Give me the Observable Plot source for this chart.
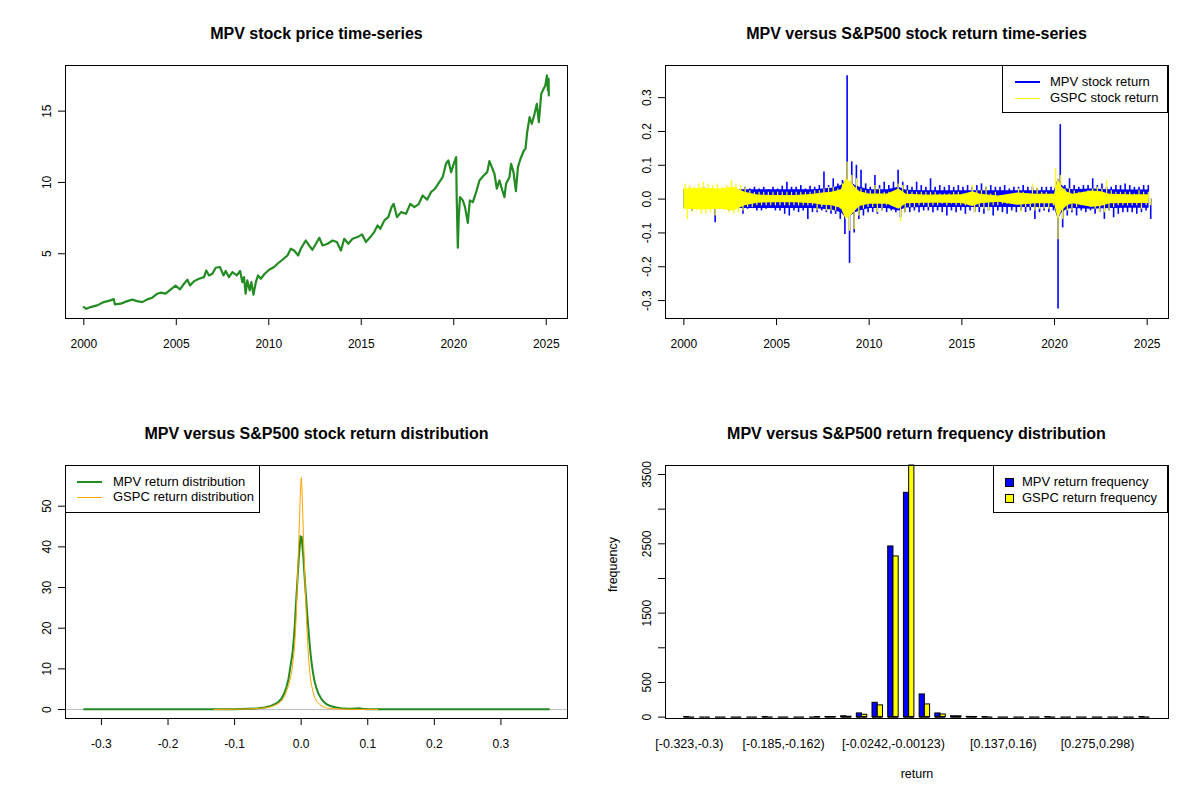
<!DOCTYPE html>
<html><head><meta charset="utf-8">
<script src="https://cdn.jsdelivr.net/npm/d3@7"></script>
<script src="https://cdn.jsdelivr.net/npm/@observablehq/plot@0.6"></script>
<style>
body{margin:0;background:#fff;font-family:"Liberation Sans",Arial,sans-serif;}
#wrap{position:relative;width:1200px;height:800px;overflow:hidden;background:#fff;}
.panel{position:absolute;width:600px;height:400px;}
.panel svg{position:absolute;left:0;top:0;}
.title{position:absolute;top:26px;left:65px;width:503px;text-align:center;font-weight:bold;font-size:16px;line-height:16px;white-space:nowrap;color:#000;}
.legend{position:absolute;border:1px solid #000;background:#fff;box-sizing:border-box;}
.legend span{position:absolute;white-space:nowrap;font-size:13px;line-height:16px;color:#000;}
</style></head><body>
<div id="wrap"></div>
<script>
// ---------- Panel 1: MPV price ----------
const priceDate = [
2000.0,2000.14,2000.36,2000.72,2001.08,2001.44,2001.62,2001.68,2001.99,2002.35,
2002.62,2002.89,2003.16,2003.43,2003.7,2003.97,2004.15,2004.42,2004.69,2004.96,
2005.2,2005.42,2005.6,2005.74,2005.96,2006.23,2006.5,2006.62,2006.77,2006.95,
2007.13,2007.36,2007.55,2007.67,2007.85,2008.03,2008.27,2008.45,2008.57,2008.66,
2008.75,2008.84,2008.97,2009.06,2009.17,2009.3,2009.42,2009.57,2009.78,2010.02,
2010.29,2010.47,2010.74,2011.01,2011.19,2011.37,2011.59,2011.73,2012.0,2012.18,
2012.36,2012.55,2012.73,2012.91,2013.18,2013.45,2013.68,2013.9,2014.08,2014.3,
2014.53,2014.8,2015.04,2015.25,2015.49,2015.7,2015.88,2016.03,2016.25,2016.46,
2016.64,2016.75,2016.93,2017.15,2017.42,2017.65,2017.87,2018.09,2018.32,2018.56,
2018.77,2018.99,2019.22,2019.4,2019.58,2019.71,2019.86,2020.0,2020.13,2020.16,
2020.22,2020.27,2020.34,2020.49,2020.61,2020.76,2020.87,2021.03,2021.21,2021.39,
2021.62,2021.81,2021.93,2022.06,2022.2,2022.33,2022.47,2022.6,2022.74,2022.83,
2023.01,2023.1,2023.23,2023.36,2023.47,2023.61,2023.79,2023.88,2023.97,2024.1,
2024.22,2024.37,2024.49,2024.6,2024.73,2024.86,2024.95,2025.04,2025.09,2025.13,
2025.14];
const priceValue = [
1.26,1.14,1.26,1.38,1.61,1.73,1.82,1.45,1.50,1.68,
1.78,1.68,1.61,1.80,1.92,2.20,2.27,2.20,2.48,2.76,
2.50,2.90,3.18,2.78,3.08,3.25,3.36,3.83,3.48,3.60,
4.02,4.07,3.48,3.79,3.36,3.71,3.48,3.79,3.01,3.36,
2.20,3.13,2.43,3.01,2.13,3.01,3.48,3.25,3.60,3.88,
4.07,4.30,4.58,4.88,5.35,5.23,4.88,5.35,5.93,5.58,
5.28,5.70,6.12,5.58,5.70,5.93,5.82,5.23,6.05,5.70,
6.05,6.17,6.36,5.82,6.17,6.52,6.99,6.75,7.34,7.57,
8.27,8.50,7.57,7.92,7.80,8.50,8.27,8.46,9.09,8.79,
9.32,9.56,10.02,10.37,11.31,11.54,10.72,11.31,11.78,8.97,
5.42,7.57,8.97,8.74,8.27,7.17,8.74,8.62,9.32,10.14,
10.49,10.72,11.50,11.07,10.61,9.56,10.14,9.56,8.97,9.91,
10.37,11.31,10.72,9.39,11.07,11.66,12.24,12.36,13.53,14.58,
14.11,14.81,15.51,14.23,16.21,16.57,16.80,17.50,16.45,17.27,
16.10];
const yearTicks = [2000, 2005, 2010, 2015, 2020, 2025];
const priceTicks = [5, 10, 15];

// ---------- Panel 2: daily returns ----------
// quarterly extreme highs / lows (drawn as spikes)
const retYears = [2000,2001,2002,2003,2004,2005,2006,2007,2008,2009,2010,2011,2012,2013,2014,2015,2016,2017,2018,2019,2020,2021,2022,2023,2024,2025];
const mpvHi = [
.030,.032,.025,.030, .035,.028,.030,.027, .028,.032,.025,.030, .028,.035,.030,.035,
.030,.035,.028,.035, .030,.038,.050,.035, .035,.040,.030,.038, .035,.040,.080,.040,
.060,.045,.055,.365, .110,.100,.085,.045, .035,.070,.040,.050, .040,.050,.085,.050,
.040,.035,.050,.040, .035,.060,.035,.040, .035,.040,.035,.040, .035,.040,.035,.040,
.045,.035,.040,.035, .035,.040,.030,.035, .035,.040,.035,.035, .030,.035,.035,.035,
.035,.220,.040,.060, .040,.035,.040,.040, .060,.040,.045,.035, .035,.040,.040,.045,
.040,.035,.035,.040, .040];
const mpvLo = [
-.030,-.035,-.028,-.030, -.030,-.028,-.070,-.030, -.028,-.035,-.030,-.028, -.045,-.030,-.028,-.035,
-.035,-.030,-.028,-.035, -.035,-.045,-.050,-.035, -.040,-.035,-.060,-.040, -.040,-.035,-.040,-.045,
-.045,-.060,-.105,-.190, -.100,-.060,-.050,-.040, -.040,-.045,-.035,-.040, -.035,-.040,-.055,-.040,
-.040,-.035,-.040,-.035, -.035,-.040,-.035,-.040, -.050,-.035,-.040,-.035, -.045,-.035,-.040,-.040,
-.045,-.035,-.050,-.035, -.040,-.045,-.035,-.040, -.035,-.040,-.035,-.060, -.040,-.035,-.040,-.035,
-.325,-.085,-.050,-.040, -.050,-.035,-.040,-.035, -.045,-.040,-.060,-.035, -.055,-.045,-.040,-.040,
-.040,-.045,-.040,-.035, -.060];
const gspcHi = [
.045,.040,.035,.045, .050,.045,.040,.045, .035,.040,.055,.045, .040,.035,.025,.020,
.020,.020,.020,.020, .020,.020,.020,.020, .020,.020,.020,.020, .025,.025,.030,.035,
.035,.030,.045,.110, .070,.060,.030,.025, .025,.040,.030,.020, .020,.020,.045,.040,
.025,.020,.020,.020, .020,.020,.020,.015, .015,.015,.020,.020, .015,.015,.040,.025,
.025,.035,.015,.020, .010,.010,.010,.010, .030,.020,.015,.045, .035,.020,.020,.015,
.090,.070,.030,.030, .025,.020,.020,.025, .030,.035,.030,.055, .025,.020,.020,.020,
.020,.015,.025,.020, .020];
const gspcLo = [
-.060,-.040,-.035,-.045, -.045,-.040,-.050,-.030, -.035,-.040,-.045,-.040, -.035,-.025,-.025,-.020,
-.020,-.020,-.020,-.020, -.020,-.020,-.020,-.020, -.020,-.020,-.020,-.020, -.035,-.025,-.035,-.035,
-.035,-.030,-.050,-.095, -.090,-.050,-.030,-.025, -.025,-.040,-.035,-.020, -.020,-.025,-.068,-.040,
-.025,-.025,-.020,-.020, -.025,-.020,-.020,-.015, -.020,-.015,-.020,-.020, -.020,-.020,-.040,-.025,
-.030,-.035,-.020,-.020, -.015,-.015,-.015,-.015, -.040,-.025,-.025,-.035, -.030,-.030,-.030,-.020,
-.120,-.060,-.035,-.035, -.025,-.020,-.020,-.025, -.030,-.040,-.040,-.035, -.025,-.020,-.020,-.020,
-.020,-.020,-.030,-.020, -.020];
// dense core of the band (half-width)
const mpvCoreDate = [2000.0,2001,2002,2003,2004,2005,2006,2007,2007.5,2008.0,2008.5,2008.75,2009.0,2009.25,2009.5,2010,2011,2011.6,2012,2013,2014,2015,2016,2017,2018,2019,2020.0,2020.2,2020.4,2020.7,2021,2022,2023,2024,2025.1];
const mpvCoreHalf = [.028,.028,.028,.028,.028,.028,.028,.028,.03,.032,.04,.055,.05,.04,.035,.028,.028,.035,.026,.025,.025,.025,.025,.025,.025,.025,.025,.06,.04,.03,.028,.03,.028,.027,.027];
const gspcCoreDate = [2000.0,2001,2002,2002.7,2003.3,2004,2005,2006,2007,2007.5,2008.0,2008.5,2008.75,2009.0,2009.25,2009.5,2010,2011,2011.6,2012,2013,2014,2015,2015.6,2016,2017,2018,2019,2020.0,2020.2,2020.4,2020.7,2021,2022,2022.5,2023,2024,2025.1];
const gspcCoreHalf = [.03,.032,.03,.035,.02,.012,.011,.011,.014,.018,.02,.028,.06,.05,.035,.022,.015,.015,.03,.014,.012,.012,.013,.022,.014,.009,.018,.014,.014,.06,.035,.02,.014,.024,.022,.014,.013,.013];
const returnTicks = [-0.3, -0.2, -0.1, 0, 0.1, 0.2, 0.3];

// ---------- Panel 3: densities ----------
const mpvDensX = [-0.326,-0.2,-0.12,-0.1,-0.08,-0.065,-0.055,-0.047,-0.040,-0.035,
-0.030,-0.026,-0.022,-0.019,-0.017,-0.015,-0.013,-0.011,-0.0095,-0.008,
-0.0065,-0.005,-0.0035,-0.002,-0.001,0.0,0.0008,0.002,0.0035,0.005,
0.0065,0.008,0.0095,0.011,0.0125,0.014,0.016,0.018,0.020,0.023,
0.026,0.030,0.034,0.038,0.045,0.053,0.060,0.067,0.075,0.082,
0.087,0.092,0.1,0.2,0.372];
const mpvDensY = [0.05,0.05,0.08,0.1,0.2,0.3,0.5,0.8,1.3,1.8,
2.6,3.8,5.6,7.6,9.7,11.8,13.9,17.5,21,25.5,
29.5,33.5,37.5,40.5,42.6,41.8,42.4,40,37,33,
29.5,26,22.5,19.5,16.5,13.8,11,8.8,7,5.2,
3.9,2.7,1.9,1.3,0.8,0.5,0.35,0.25,0.2,0.25,
0.3,0.2,0.1,0.05,0.05];
const gspcDensX = [-0.131,-0.1,-0.08,-0.061,-0.05,-0.042,-0.035,-0.029,-0.025,-0.022,
-0.018,-0.014,-0.011,-0.009,-0.0075,-0.006,-0.0045,-0.0035,-0.0025,-0.0015,
-0.0005,0.0003,0.001,0.002,0.0035,0.0045,0.0055,0.007,0.008,0.0095,
0.011,0.013,0.015,0.018,0.020,0.024,0.028,0.033,0.038,0.045,
0.055,0.07,0.09,0.115];
const gspcDensY = [0.02,0.08,0.15,0.3,0.5,0.9,1.4,2.2,3.2,4.5,
6.5,9.5,13.5,18,23,30,37,42,47,52,
56,57,55,50,42,37,32,26,22,17,
13,9,6.5,4.2,3,1.9,1.2,0.7,0.4,0.25,
0.15,0.08,0.04,0.02];
const densXTicks = [-0.3, -0.2, -0.1, 0, 0.1, 0.2, 0.3];
const densYTicks = [0, 10, 20, 30, 40, 50];

// ---------- Panel 4: frequency histogram (30 bins of width 0.023 from -0.323) ----------
const mpvFreq  = [1,0,0,0,0,1,0,0,0,2, 12,53,207,2462,3236,327,53,12,3,1, 0,0,0,1,0,0,0,0,0,1];
const gspcFreq = [0,0,0,0,0,0,0,0,1,1, 5,34,169,2318,3700,183,38,12,2,0, 0,0,0,0,0,0,0,0,0,0];
const binLabelIndex = [0, 6, 13, 20, 26];
const binLabelText = ["[-0.323,-0.3)", "[-0.185,-0.162)", "[-0.0242,-0.00123)", "[0.137,0.16)", "[0.275,0.298)"];
const freqTicks = [0, 500, 1000, 1500, 2000, 2500, 3000, 3500];
const freqLabels = [0, 500, 1500, 2500, 3500];

// ---------- Texts ----------
const titles = ["MPV stock price time-series", "MPV versus S&P500 stock return time-series",
  "MPV versus S&P500 stock return distribution", "MPV versus S&P500 return frequency distribution"];
const legendReturn = ["MPV stock return", "GSPC stock return"];
const legendDens = ["MPV return distribution", "GSPC return distribution"];
const legendFreq = ["MPV return frequency", "GSPC return frequency"];

// ---------- Helpers ----------
const FONT = '"Liberation Sans", Arial, sans-serif';
const fmt1 = d => d.toFixed(1);
function base(opts) {
  return Object.assign({
    width: 600, height: 400, marginLeft: 65, marginRight: 33, marginTop: 65, marginBottom: 82,
    style: {fontFamily: FONT, fontSize: "12px", color: "#000", background: "transparent", overflow: "visible"}
  }, opts);
}
function yTicks(ticks) { return Plot.axisY(ticks, {tickSize: 7, tickFormat: () => "", label: null}); }
function yLabels(ticks, f) {
  return Plot.text(ticks, {y: d => d, text: f, frameAnchor: "left", dx: -18, rotate: -90, textAnchor: "middle", fontSize: 12, fill: "#000"});
}
function xAxis(ticks, f) {
  return Plot.axisX(ticks, {tickSize: 7, tickPadding: 14, tickFormat: f, label: null, fontSize: 12});
}
function spikes(hi, lo) {
  const out = [];
  hi.forEach((h, i) => {
    const t = retYears[Math.floor(i / 4)] + (i % 4) / 4;
    out.push({t: t + 0.06, r: h});
    out.push({t: t + 0.19, r: lo[i]});
  });
  return out;
}
const wrap = document.getElementById("wrap");
function panel(left, top, svg, title) {
  const p = document.createElement("div");
  p.className = "panel";
  p.style.left = left + "px"; p.style.top = top + "px";
  p.appendChild(svg);
  const t = document.createElement("div");
  t.className = "title"; t.textContent = title;
  p.appendChild(t);
  wrap.appendChild(p);
  return p;
}
function legend(p, box, items) {
  const d = document.createElement("div");
  d.className = "legend";
  Object.assign(d.style, {left: box.left + "px", top: box.top + "px", width: box.width + "px", height: box.height + "px"});
  items.forEach(it => {
    const s = document.createElement("div");
    if (it.kind === "line") {
      Object.assign(s.style, {position: "absolute", left: it.x0 + "px", width: (it.x1 - it.x0) + "px",
        top: (it.y - it.w / 2) + "px", height: it.w + "px", background: it.color});
    } else {
      Object.assign(s.style, {position: "absolute", left: it.x0 + "px", width: "7px", height: "7px",
        top: (it.y - 4.5) + "px", background: it.color, border: "1px solid #000"});
    }
    d.appendChild(s);
    const tx = document.createElement("span");
    tx.textContent = it.label;
    tx.style.left = it.tx + "px"; tx.style.top = (it.y - 8) + "px";
    d.appendChild(tx);
  });
  p.appendChild(d);
}

// ---------- Panel 1 ----------
const priceData = priceDate.map((t, i) => ({t, v: priceValue[i]}));
const p1 = Plot.plot(base({
  x: {domain: [1999.01, 2026.15]},
  y: {domain: [0.46, 18.2]},
  marks: [
    Plot.line(priceData, {x: "t", y: "v", stroke: "#228B22", strokeWidth: 2.2}),
    Plot.frame({stroke: "#000"}),
    xAxis(yearTicks, d => String(d)),
    yTicks(priceTicks),
    yLabels(priceTicks, d => String(d))
  ]
}));
panel(0, 0, p1, titles[0]);

// ---------- Panel 2 ----------
const mpvSpikes = spikes(mpvHi, mpvLo);
const gspcSpikes = spikes(gspcHi, gspcLo);
const mpvCore = mpvCoreDate.map((t, i) => ({t, h: mpvCoreHalf[i]}));
const gspcCore = gspcCoreDate.map((t, i) => ({t, h: gspcCoreHalf[i]}));
const p2 = Plot.plot(base({
  marginRight: 32,
  x: {domain: [1999.01, 2026.15]},
  y: {domain: [-0.353, 0.395]},
  marks: [
    Plot.areaY(mpvCore, {x: "t", y1: d => -d.h, y2: d => d.h, fill: "#0000FF"}),
    Plot.ruleX(mpvSpikes, {x: "t", y1: 0, y2: "r", stroke: "#0000FF", strokeWidth: 1.6}),
    Plot.areaY(gspcCore, {x: "t", y1: d => -d.h, y2: d => d.h, fill: "#FFFF00"}),
    Plot.ruleX(gspcSpikes, {x: "t", y1: 0, y2: "r", stroke: "#FFFF00", strokeWidth: 1.2}),
    Plot.frame({stroke: "#000"}),
    xAxis(yearTicks, d => String(d)),
    yTicks(returnTicks),
    yLabels(returnTicks, fmt1)
  ]
}));
const pp2 = panel(600, 0, p2, titles[1]);
legend(pp2, {left: 402, top: 65, width: 166, height: 48}, [
  {kind: "line", x0: 12, x1: 37, y: 16, w: 2.5, color: "#0000FF", label: legendReturn[0], tx: 47},
  {kind: "line", x0: 12, x1: 37, y: 32, w: 1, color: "#FFFF00", label: legendReturn[1], tx: 47}
]);

// ---------- Panel 3 ----------
const mpvDens = mpvDensX.map((x, i) => ({x, y: mpvDensY[i]}));
const gspcDens = gspcDensX.map((x, i) => ({x, y: gspcDensY[i]}));
const p3 = Plot.plot(base({
  x: {domain: [-0.354, 0.400]},
  y: {domain: [-2.2, 60]},
  marks: [
    Plot.ruleY([0], {stroke: "#BEBEBE", strokeWidth: 1}),
    Plot.line(mpvDens, {x: "x", y: "y", stroke: "#228B22", strokeWidth: 2}),
    Plot.line(gspcDens, {x: "x", y: "y", stroke: "#FFA500", strokeWidth: 1}),
    Plot.frame({stroke: "#000"}),
    xAxis(densXTicks, fmt1),
    yTicks(densYTicks),
    yLabels(densYTicks, d => String(d))
  ]
}));
const pp3 = panel(0, 400, p3, titles[2]);
legend(pp3, {left: 65, top: 65, width: 195, height: 48}, [
  {kind: "line", x0: 11, x1: 36, y: 16, w: 2.5, color: "#228B22", label: legendDens[0], tx: 47},
  {kind: "line", x0: 11, x1: 36, y: 31, w: 1, color: "#FFA500", label: legendDens[1], tx: 47}
]);

// ---------- Panel 4 ----------
const bars = [];
mpvFreq.forEach((c, i) => {
  bars.push({x1: 3 * i + 1, x2: 3 * i + 2, n: c, s: "MPV"});
  bars.push({x1: 3 * i + 2, x2: 3 * i + 3, n: gspcFreq[i], s: "GSPC"});
});
const binLabels = binLabelIndex.map((b, i) => ({x: 3 * b + 2, label: binLabelText[i]}));
const p4 = Plot.plot(base({
  marginRight: 32,
  x: {domain: [-2.56, 93.56], axis: null},
  y: {domain: [-20, 3630], clamp: true, axis: null},
  color: {domain: ["MPV", "GSPC"], range: ["#0000FF", "#FFFF00"]},
  marks: [
    Plot.rectY(bars, {x1: "x1", x2: "x2", y1: 0, y2: "n", fill: "s", stroke: "#000", strokeWidth: 1}),
    Plot.ruleY(bars, {x1: "x1", x2: "x2", y: 0, stroke: "#000", strokeWidth: 1.3}),
    Plot.frame({stroke: "#000"}),
    Plot.text(binLabels, {x: "x", text: "label", frameAnchor: "bottom", dy: 29, fontSize: 12.5, fill: "#000"}),
    Plot.text(["return"], {frameAnchor: "bottom", dy: 59, fontSize: 12.5, fill: "#000"}),
    Plot.text(["frequency"], {frameAnchor: "left", dx: -53, rotate: -90, fontSize: 12.5, fill: "#000"}),
    yTicks(freqTicks),
    yLabels(freqLabels, d => String(d))
  ]
}));
const pp4 = panel(600, 400, p4, titles[3]);
legend(pp4, {left: 393, top: 65, width: 175, height: 48}, [
  {kind: "box", x0: 11, y: 16, color: "#0000FF", label: legendFreq[0], tx: 28},
  {kind: "box", x0: 11, y: 32, color: "#FFFF00", label: legendFreq[1], tx: 28}
]);
</script></body></html>
